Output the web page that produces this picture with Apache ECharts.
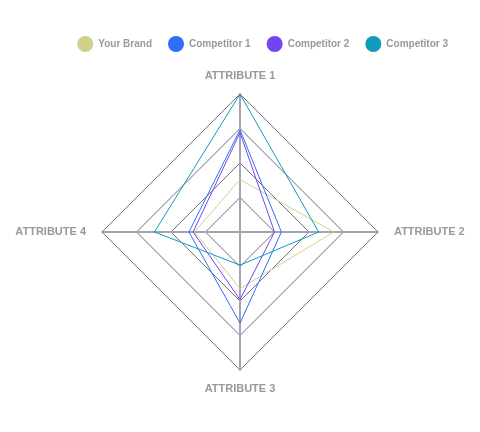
<!DOCTYPE html>
<html><head><meta charset="utf-8">
<script src="https://cdn.jsdelivr.net/npm/echarts@6/dist/echarts.min.js"></script>
<style>html,body{margin:0;padding:0;background:#fff}#c{width:480px;height:432px}</style>
</head><body><div id="c"></div>
<script>
const indicators = ['ATTRIBUTE 1', 'ATTRIBUTE 2', 'ATTRIBUTE 3', 'ATTRIBUTE 4'];
const seriesNames = ['Your Brand', 'Competitor 1', 'Competitor 2', 'Competitor 3'];
const yourBrand = [38, 68, 41, 33];
const competitor1 = [74, 30, 66, 37];
const competitor2 = [72, 25, 49, 34];
const competitor3 = [100, 57, 24, 62];
const colors = ['#d0d08c', '#2f6ef6', '#7544f2', '#109bbd'];
const values = [yourBrand, competitor1, competitor2, competitor3];

// ECharts radar runs counter-clockwise; reorder so attributes go clockwise
const order = [0, 3, 2, 1];

const chart = echarts.init(document.getElementById('c'));
chart.setOption({
  animation: false,
  color: colors,
  legend: {
    top: 31,
    right: 27,
    icon: 'circle',
    itemWidth: 16,
    itemHeight: 16,
    itemGap: 16,
    textStyle: { color: '#999', fontWeight: 'bold', fontSize: 10, fontFamily: 'Liberation Sans, Arial, sans-serif' },
    data: seriesNames
  },
  radar: {
    center: [240, 232],
    radius: 138,
    shape: 'polygon',
    splitNumber: 4,
    startAngle: 90,
    indicator: order.map(k => ({ name: indicators[k], max: 100, min: 0 })),
    axisName: { color: '#999', fontWeight: 'bold', fontSize: 11, fontFamily: 'Liberation Sans, Arial, sans-serif', padding: [0, 3] },
    nameGap: 13,
    splitArea: { show: false },
    splitLine: { lineStyle: { color: '#6f6f80', width: 1 } },
    axisLine: { lineStyle: { color: '#a4a4b0', width: 2 } }
  },
  series: [{
    type: 'radar',
    symbol: 'none',
    lineStyle: { width: 1 },
    data: seriesNames.map((n, i) => ({ name: n, value: order.map(k => values[i][k]), lineStyle: { color: colors[i], width: 1 }, itemStyle: { color: colors[i] } }))
  }]
});
</script></body></html>
